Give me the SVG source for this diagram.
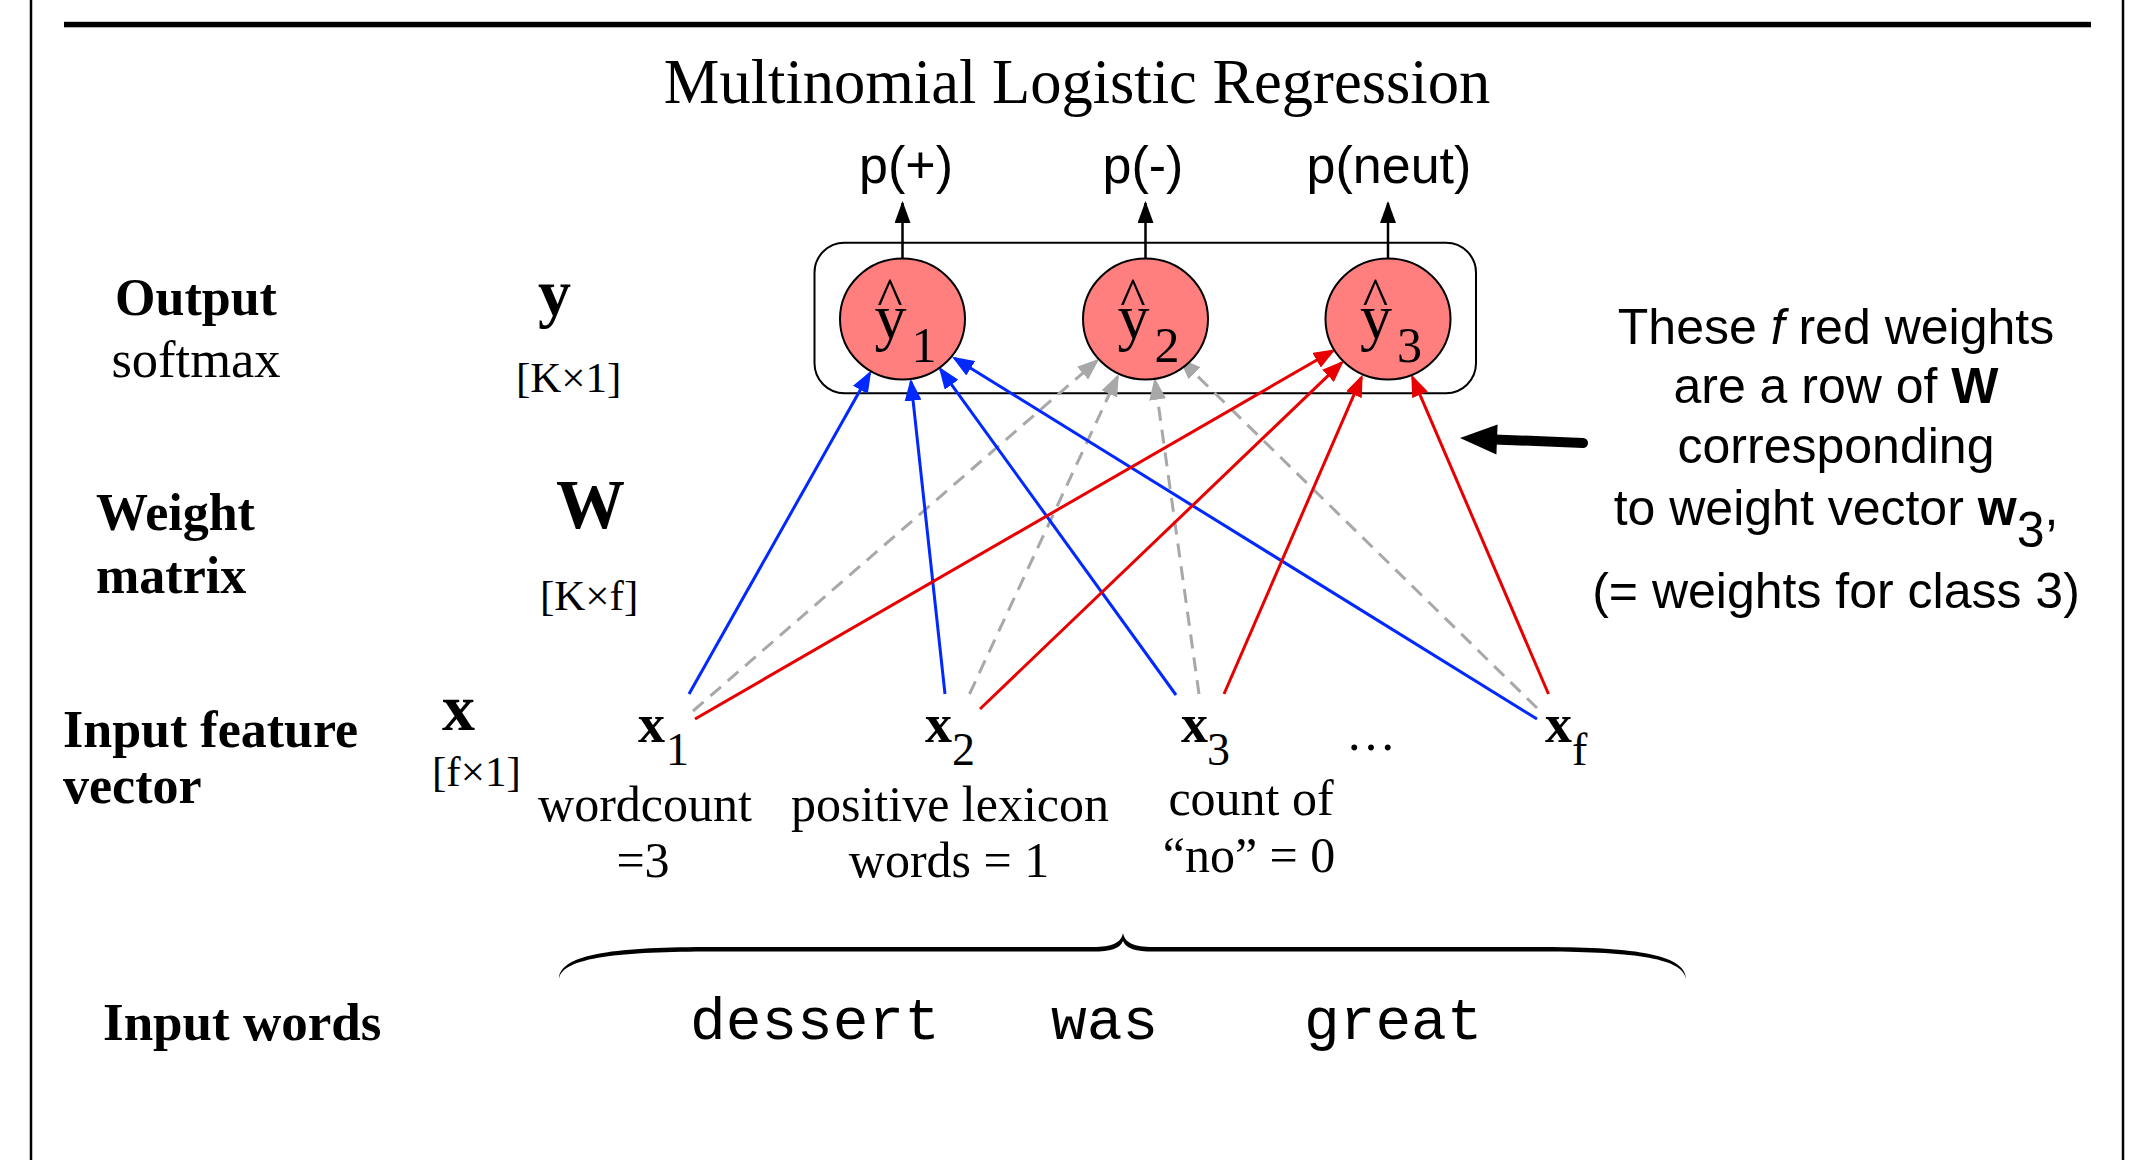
<svg xmlns="http://www.w3.org/2000/svg" width="2152" height="1160" viewBox="0 0 2152 1160">
<style>
.serif{font-family:"Liberation Serif","Times New Roman",serif;fill:#000}
.sans{font-family:"Liberation Sans",Arial,sans-serif;fill:#000}
.mono{font-family:"Liberation Mono","Courier New",monospace;fill:#000}
.b{font-weight:bold}
.lab{font-size:52px;font-weight:bold}
.feat{font-size:50px}
.dim{font-size:43px}
.hat{font-size:54px}
.blue{stroke:#0028ff;stroke-width:3;fill:none;marker-end:url(#mb)}
.red{stroke:#e80000;stroke-width:3;fill:none;marker-end:url(#mr)}
.gray{stroke:#a8a8a8;stroke-width:3;fill:none;stroke-dasharray:14 9;marker-end:url(#mg)}
.up{stroke:#000;stroke-width:2.5;fill:none;marker-end:url(#mk)}
.node{fill:#ff7f7f;stroke:#000;stroke-width:2}
</style>
<defs>
<marker id="mb" markerWidth="22" markerHeight="17" refX="19" refY="8.5" orient="auto" markerUnits="userSpaceOnUse"><path d="M0,0 L22,8.5 L0,17 z" fill="#0028ff"/></marker>
<marker id="mr" markerWidth="22" markerHeight="17" refX="19" refY="8.5" orient="auto" markerUnits="userSpaceOnUse"><path d="M0,0 L22,8.5 L0,17 z" fill="#e80000"/></marker>
<marker id="mg" markerWidth="22" markerHeight="17" refX="19" refY="8.5" orient="auto" markerUnits="userSpaceOnUse"><path d="M0,0 L22,8.5 L0,17 z" fill="#a8a8a8"/></marker>
<marker id="mk" markerWidth="22" markerHeight="16" refX="20" refY="8" orient="auto" markerUnits="userSpaceOnUse"><path d="M0,0 L22,8 L0,16 z" fill="#000"/></marker>
</defs>
<rect width="2152" height="1160" fill="#fff"/>
<g id="frame">
<line x1="31" y1="0" x2="31" y2="1160" stroke="#000" stroke-width="2.5"/>
<line x1="2123" y1="0" x2="2123" y2="1160" stroke="#000" stroke-width="2.5"/>
<rect x="64" y="21.8" width="2027" height="5.5" fill="#000"/>
</g>
<text id="title" class="serif" x="1077" y="103" font-size="62.5" text-anchor="middle">Multinomial Logistic Regression</text>
<g id="row-labels">
<text class="serif lab" x="196" y="315" text-anchor="middle">Output</text>
<text class="serif" x="196" y="377" font-size="52.5" text-anchor="middle">softmax</text>
<text class="serif b" x="538" y="315" font-size="66">y</text>
<text class="serif dim" x="516" y="392">[K×1]</text>
<text class="serif lab" x="96" y="530">Weight</text>
<text class="serif lab" x="96" y="593">matrix</text>
<text class="serif b" x="556" y="528" font-size="69">W</text>
<text class="serif dim" x="540" y="610">[K×f]</text>
<text class="serif lab" x="63" y="747">Input feature</text>
<text class="serif lab" x="63" y="803">vector</text>
<text class="serif b" x="442" y="730" font-size="66">x</text>
<text class="serif dim" x="432" y="786" font-size="45">[f×1]</text>
<text class="serif b" x="103" y="1040" font-size="53">Input words</text>
</g>
<rect id="output-box" x="814.5" y="242.7" width="661.5" height="150.6" rx="30" ry="30" fill="none" stroke="#000" stroke-width="2"/>
<g id="connectors">
<line class="up" x1="902.5" y1="258" x2="902.5" y2="203"/>
<line class="up" x1="1145.5" y1="258" x2="1145.5" y2="203"/>
<line class="up" x1="1388" y1="258" x2="1388" y2="203"/>
<line class="gray" x1="693" y1="711" x2="1097" y2="360.7"/>
<line class="gray" x1="969.5" y1="694" x2="1117.5" y2="376.7"/>
<line class="gray" x1="1199" y1="694" x2="1155" y2="380.7"/>
<line class="gray" x1="1537" y1="708" x2="1181" y2="360"/>
<line class="blue" x1="689" y1="694" x2="869.7" y2="373.3"/>
<line class="blue" x1="945" y1="694" x2="911" y2="381.7"/>
<line class="blue" x1="1176" y1="695" x2="940.5" y2="369.3"/>
<line class="blue" x1="1537" y1="719" x2="954.6" y2="358.3"/>
<line class="red" x1="695" y1="719" x2="1333" y2="350.7"/>
<line class="red" x1="980" y1="709" x2="1341.7" y2="362.7"/>
<line class="red" x1="1224" y1="694" x2="1361.5" y2="377.3"/>
<line class="red" x1="1548.5" y1="694" x2="1412.5" y2="377.3"/>
<line x1="1583" y1="443" x2="1494" y2="439.4" stroke="#000" stroke-width="10" stroke-linecap="round"/>
<polygon points="1460,438 1497.6,424.5 1496.4,454.5" fill="#000"/>
</g>
<g id="outputs">
<text class="sans" x="906" y="183" font-size="52" text-anchor="middle">p(+)</text>
<text class="sans" x="1143" y="183" font-size="52" text-anchor="middle">p(-)</text>
<text class="sans" x="1389" y="183" font-size="52" text-anchor="middle">p(neut)</text>
</g>
<g id="y1">
<ellipse class="node" cx="902.5" cy="319" rx="62.5" ry="60.5"/>
<text class="serif hat" x="890" y="315" text-anchor="middle">^</text>
<text class="serif" x="874.5" y="338" font-size="64">y</text>
<text class="serif" x="911.5" y="362" font-size="50">1</text>
</g>
<g id="y2">
<ellipse class="node" cx="1145.5" cy="319" rx="62.5" ry="60.5"/>
<text class="serif hat" x="1133" y="315" text-anchor="middle">^</text>
<text class="serif" x="1117.5" y="338" font-size="64">y</text>
<text class="serif" x="1154.5" y="362" font-size="50">2</text>
</g>
<g id="y3">
<ellipse class="node" cx="1388" cy="319" rx="62.5" ry="60.5"/>
<text class="serif hat" x="1375.5" y="315" text-anchor="middle">^</text>
<text class="serif" x="1360" y="338" font-size="64">y</text>
<text class="serif" x="1397" y="362" font-size="50">3</text>
</g>
<g id="x1">
<text class="serif b" x="638" y="742" font-size="54">x</text>
<text class="serif" x="666" y="765" font-size="46">1</text>
<text class="serif feat" x="645" y="821" text-anchor="middle">wordcount</text>
<text class="serif feat" x="643" y="877" text-anchor="middle">=3</text>
</g>
<g id="x2">
<text class="serif b" x="925" y="742" font-size="54">x</text>
<text class="serif" x="952" y="765" font-size="46">2</text>
<text class="serif feat" x="950" y="821" text-anchor="middle">positive lexicon</text>
<text class="serif feat" x="949" y="877" text-anchor="middle">words = 1</text>
</g>
<g id="x3">
<text class="serif b" x="1181" y="742" font-size="54">x</text>
<text class="serif" x="1207" y="765" font-size="46">3</text>
<text class="serif feat" x="1251" y="815" text-anchor="middle">count of</text>
<text class="serif feat" x="1249" y="872" text-anchor="middle">“no” = 0</text>
</g>
<g id="ellipsis">
<text class="serif" x="1346" y="750" font-size="50">…</text>
</g>
<g id="xf">
<text class="serif b" x="1545" y="742" font-size="54">x</text>
<text class="serif" x="1572" y="765" font-size="46">f</text>
</g>
<g id="annotation">
<text class="sans" x="1836" y="344" font-size="50" text-anchor="middle">These <tspan font-style="italic">f</tspan> red weights</text>
<text class="sans" x="1836" y="403" font-size="50" text-anchor="middle">are a row of <tspan font-weight="bold">W</tspan></text>
<text class="sans" x="1836" y="463" font-size="50" text-anchor="middle">corresponding</text>
<text class="sans" x="1836" y="525" font-size="50" text-anchor="middle">to weight vector <tspan font-weight="bold">w</tspan><tspan dy="22">3</tspan><tspan dy="-22">,</tspan></text>
<text class="sans" x="1836" y="608" font-size="50" text-anchor="middle">(= weights for class 3)</text>
</g>
<g id="input-words">
<path d="M559,979 C559,953 620,947 713,947 L1093,947 C1112,947 1121,943 1123,933 C1125,943 1134,947 1153,947 L1537,947 C1628,947 1686,953 1686,979 C1683,957 1628,951.5 1537,951.5 L1153,951.5 C1136,951.5 1126,949 1123,941 C1120,949 1110,951.5 1093,951.5 L713,951.5 C622,951.5 562,957 559,979 Z" fill="#000"/>
<text class="mono" x="690" y="1039" font-size="59.5">dessert</text>
<text class="mono" x="1051" y="1039" font-size="59.5">was</text>
<text class="mono" x="1304" y="1039" font-size="59.5">great</text>
</g>
</svg>
